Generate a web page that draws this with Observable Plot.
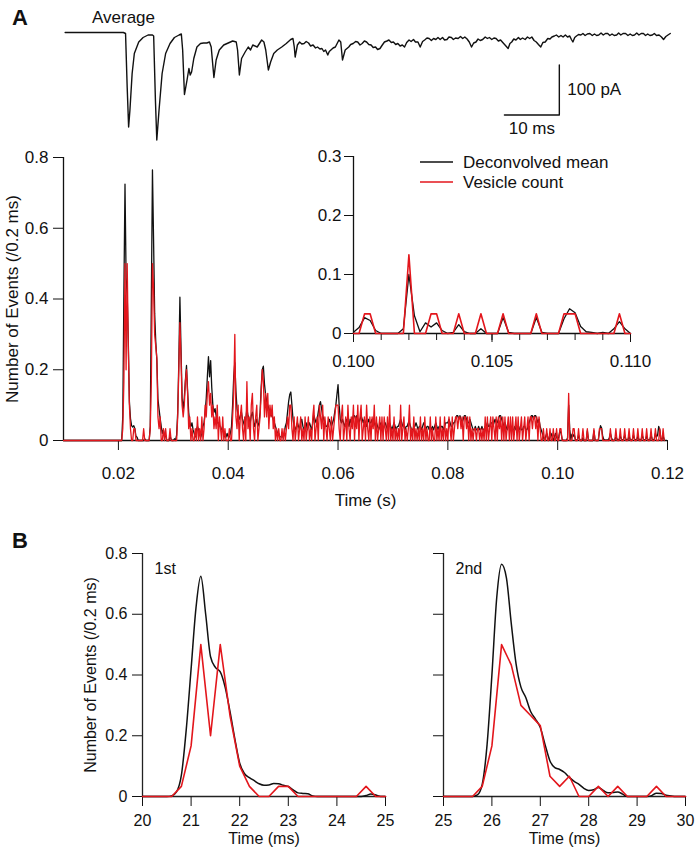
<!DOCTYPE html>
<html>
<head>
<meta charset="utf-8">
<script src="https://cdn.jsdelivr.net/npm/d3@7"></script>
<script src="https://cdn.jsdelivr.net/npm/@observablehq/plot@0.6"></script>
<style>
  html, body { margin: 0; padding: 0; background: #fff; }
  #fig { position: relative; width: 697px; height: 853px; overflow: hidden;
         font-family: "Liberation Sans", Arial, Helvetica, sans-serif; }
  #fig > svg { position: absolute; left: 0; top: 0; overflow: visible; background: transparent; }
</style>
</head>
<body>
<div id="fig">
  <svg id="overlay" width="697" height="853" style="font-family:'Liberation Sans',Arial,sans-serif">
    <text x="12" y="25" font-size="22" font-weight="bold" fill="#111">A</text>
    <text x="12" y="548" font-size="22" font-weight="bold" fill="#111">B</text>
    <text x="92" y="23" font-size="17" fill="#111">Average</text>
    <line x1="420" x2="453" y1="162" y2="162" stroke="#111" stroke-width="1.4"></line>
    <text x="463" y="162" dy="0.35em" font-size="17" fill="#111">Deconvolved mean</text>
    <line x1="420" x2="453" y1="182" y2="182" stroke="#e3161c" stroke-width="1.6"></line>
    <text x="463" y="182" dy="0.35em" font-size="17" fill="#111">Vesicle count</text>
  </svg>
</div>
<script>
// ---------------- DATA ----------------
// Panel A: binned event counts, 0.2 ms bins starting at 10 ms
const mainStartMs = 10;
const binMs = 0.2;
const nTrials = 30;

// Vesicle count per bin (counts out of nTrials)
const vesicleCounts = [
  0,0,0,0,0,0,0,0,0,0, 0,0,0,0,0,0,0,0,0,0, 0,0,0,0,0,0,0,0,0,0, 0,0,0,0,0,0,0,0,0,0, 0,0,0,0,0,0,0,0,0,0,
  0,0,0,0,1,5,15,6,15,8, 3,1,0,0,1,1,0,0,0,0, 0,0,0,1,0,0,0,0,0,1, 5,15,13,9,8,7,2,1,2,0, 0,1,0,1,0,0,0,1,0,0,
  0,0,0,0,2,6,10,7,3,2, 3,5,6,4,1,2,0,1,0,0, 1,0,2,0,1,0,2,0,1,3, 2,4,5,3,4,2,3,1,2,1, 3,0,2,1,0,2,0,1,0,0,
  0,1,0,0,2,4,9,2,1,3, 0,2,3,1,0,2,0,5,1,2, 0,3,4,1,0,2,3,0,1,2, 4,6,5,2,4,2,4,1,3,2, 3,1,2,0,1,0,1,0,0,1,
  0,1,0,1,2,1,3,3,1,0, 2,0,1,2,0,1,2,0,1,0, 2,0,1,2,0,1,0,2,3,0, 1,2,0,3,2,1,3,0,2,1, 0,2,1,0,2,0,1,2,3,3,
  3,1,0,2,3,0,1,2,0,3, 1,0,2,1,3,0,2,1,3,0, 2,3,0,1,2,0,3,1,0,2, 0,2,1,3,0,2,0,1,2,0, 2,0,2,1,0,2,0,3,0,1,
  0,2,0,1,0,1,0,3,0,1, 2,0,1,0,1,3,0,1,0,2, 0,1,0,1,0,2,0,1,0,2, 0,1,0,0,2,0,1,0,0,2, 0,1,0,2,0,1,0,2,0,1,
  0,2,1,0,2,0,1,2,2,1, 2,2,1,2,0,2,2,1,2,0, 2,0,1,0,1,1,0,1,1,0, 1,0,1,0,2,0,2,0,1,2, 0,2,1,0,2,0,2,1,2,0,
  2,0,2,0,1,2,0,2,0,2, 0,1,2,0,2,0,1,2,0,1, 2,0,1,2,0,2,2,1,2,2, 1,2,0,2,1,0,0,1,0,0, 1,0,0,1,0,0,1,0,0,1,
  0,0,1,1,0,0,0,0,0,0, 4,0,0,0,1,1,0,0,0,1, 0,0,0,1,0,0,0,1,0,0, 0,0,0,1,0,0,0,0,1,1, 1,0,0,0,0,0,0,0,1,0,
  0,0,0,1,0,0,0,1,0,0, 0,1,0,0,0,1,0,0,0,1, 0,0,0,1,0,0,0,1,0,0, 0,1,0,0,0,1,0,0,0,1, 0,0,0,1,0,0,1,0
];

// Deconvolved mean per bin (thousandths of an event)
const deconvMilli = [
  0,0,0,0,0,0,0,0,0,0, 0,0,0,0,0,0,0,0,0,0, 0,0,0,0,0,0,0,0,0,0, 0,0,0,0,0,0,0,0,0,0, 0,0,0,0,0,0,0,0,0,0,
  0,0,0,0,70,420,725,460,410,280, 110,62,42,38,42,33,12,9,0,0, 0,0,0,0,5,0,0,0,0,40, 400,765,570,360,280,227,117,89,63,40, 20,30,12,15,0,0,0,11,4,0,
  0,5,0,15,80,220,405,260,120,90, 120,170,212,140,80,50,40,50,30,20, 10,30,40,30,20,10,20,40,50,80, 120,180,237,180,226,150,100,80,90,70, 50,50,40,40,30,30,20,10,10,20,
  10,10,20,40,100,180,220,140,90,70, 60,70,80,60,50,40,60,90,70,60, 50,70,80,60,40,50,60,40,50,80, 150,200,210,160,130,110,100,90,80,70, 70,60,50,40,30,20,20,10,10,10,
  10,20,40,50,80,110,130,137,100,60, 40,30,40,50,40,30,50,60,40,30, 40,50,30,40,50,40,30,50,70,60, 50,60,80,100,110,90,70,60,50,40, 40,50,60,50,40,50,60,80,100,130,
  158,100,60,50,60,50,40,50,60,50, 40,60,50,60,70,70,60,70,60,50, 60,70,60,50,60,50,40,50,60,50, 50,60,60,50,40,50,40,30,40,50, 40,30,40,50,40,30,40,50,40,30,
  40,50,40,30,40,40,50,60,50,40, 40,30,40,40,50,50,40,30,30,40, 40,50,40,30,40,40,30,40,50,40, 30,40,40,30,40,30,40,30,40,50, 40,30,40,30,40,40,30,40,50,50,
  50,60,50,40,40,50,50,60,70,70, 60,70,60,50,60,70,70,60,50,50, 60,50,40,30,30,40,30,30,40,30, 30,40,30,30,40,40,50,40,40,50, 50,40,50,60,50,50,60,70,70,60,
  50,40,50,40,30,40,40,30,40,30, 30,40,30,40,30,30,40,30,30,40, 40,30,30,40,50,60,70,70,60,70, 70,60,50,60,40,30,20,10,0,10, 20,10,0,10,20,10,0,10,20,10,
  2,10,27,22,5,0,0,0,0,8, 100,30,3,18,11,18,5,0,2,15, 3,0,0,8,0,0,0,27,2,0, 0,0,0,27,2,0,0,0,25,42, 35,12,3,2,0,2,0,8,20,8,
  0,0,3,10,5,0,3,12,5,0, 3,15,5,0,3,12,3,0,3,15, 5,0,3,12,3,0,3,15,5,0, 3,12,3,0,3,15,5,0,5,20, 10,15,40,30,5,3,12,3
];

// Panel B: deconvolved mean at 0.1 ms resolution (thousandths)
const b1StartMs = 20, b2StartMs = 25, bStepMs = 0.1;
const b1DeconvMilli = [
  0,0,0,0,0,0,2,15,70,220, 420,620,725,600,460,425,410,360,280,190,
  110,75,62,52,42,37,38,43,42,37, 33,22,12,10,9,2,0,0,0,0,
  0,0,0,0,0,0,3,8,5,0,0
];
const b2DeconvMilli = [
  0,0,0,0,0,0,0,5,40,170, 400,655,765,720,570,436,360,326,280,255,
  227,170,117,95,89,79,63,50,40,27, 20,22,30,20,12,13,15,8,0,0,
  0,0,0,3,11,10,4,2,0,0,0
];

// Average EPSC trace: [time (ms), current (pA)]
const avgTrace = [[10.3,0],[20.9,0],[21.3,-2],[21.6,-110],[21.86,-189],[22.1,-155],[22.5,-82],[22.9,-42],[23.7,-19],[24.5,-10],[25.4,-5],[26.2,-5],[26.42,-7],[26.74,-135],[26.99,-215],[27.4,-155],[27.96,-82],[28.6,-42],[29.4,-22],[30.2,-10],[31.05,-5],[31.46,-3],[31.7,-35],[32.03,-124],[32.5,-95],[32.84,-72],[33.08,-85],[33.33,-79],[33.73,-52],[34.3,-29],[34.95,-22],[35.5,-21],[36.1,-21],[36.58,-19],[36.9,-29],[37.39,-90],[37.8,-55],[38.37,-35],[39.18,-25],[40.0,-21],[40.81,-17],[41.46,-19],[41.7,-35],[42.03,-85],[42.43,-52],[43.08,-39],[43.65,-29],[44.06,-35],[44.47,-25],[45.28,-29],[46.09,-15],[46.5,-19],[46.83,-35],[47.31,-75],[47.72,-59],[48.29,-42],[48.94,-35],[49.75,-29],[50.57,-22],[51.38,-14],[51.79,-12],[52.03,-29],[52.19,-49],[52.6,-25],[53.0,-19],[53.4,-23],[53.82,-22],[54.2,-18],[54.63,-21],[55.0,-27],[55.45,-25],[55.9,-31],[56.26,-29],[56.7,-33],[57.07,-32],[57.4,-38],[57.72,-35],[58.13,-45],[58.4,-38],[58.7,-35],[59.1,-31],[59.51,-29],[60.16,-15],[60.49,-19],[60.81,-55],[61.3,-35],[61.95,-29],[62.3,-24],[62.76,-22],[63.2,-18],[63.58,-19],[64.0,-25],[64.39,-22],[64.8,-17],[65.2,-19],[65.6,-24],[66.02,-25],[66.4,-30],[66.83,-29],[67.2,-34],[67.64,-32],[68.0,-26],[68.45,-19],[68.9,-17],[69.27,-15],[69.7,-20],[70.08,-19],[70.5,-24],[70.89,-22],[71.3,-27],[71.71,-25],[72.11,-29],[72.5,-20],[72.93,-15],[73.3,-18],[73.74,-14],[74.1,-19],[74.55,-19],[74.96,-29],[75.4,-18],[75.77,-15],[76.2,-11],[76.59,-12],[77.0,-16],[77.4,-12],[77.81,-14],[78.2,-10],[78.6,-14],[79.03,-10],[79.4,-15],[79.84,-14],[80.2,-9],[80.65,-10],[81.0,-14],[81.4,-11],[81.87,-12],[82.3,-8],[82.7,-12],[83.09,-9],[83.5,-13],[83.9,-19],[84.31,-29],[84.7,-21],[85.12,-19],[85.5,-13],[85.9,-16],[86.34,-14],[86.8,-9],[87.2,-12],[87.56,-10],[88.0,-14],[88.4,-11],[88.78,-12],[89.2,-17],[89.6,-15],[90.0,-20],[90.41,-25],[90.98,-32],[91.3,-22],[91.63,-19],[92.0,-13],[92.4,-15],[92.85,-10],[93.2,-14],[93.6,-11],[94.07,-14],[94.5,-9],[94.9,-12],[95.29,-9],[95.7,-16],[96.1,-19],[96.5,-24],[96.92,-29],[97.3,-20],[97.73,-19],[98.2,-12],[98.6,-13],[98.95,-9],[99.4,-7],[99.76,-5],[100.2,-9],[100.6,-6],[100.98,-9],[101.4,-5],[101.8,-9],[102.2,-7],[102.5,-14],[102.77,-19],[103.1,-10],[103.42,-7],[103.8,-4],[104.23,-5],[104.6,-2],[105.0,-6],[105.4,-3],[105.86,-2],[106.3,-6],[106.7,-3],[107.1,-6],[107.48,-5],[107.9,-1],[108.3,-5],[108.7,-2],[109.11,-2],[109.5,-6],[109.9,-3],[110.3,-6],[110.74,-5],[111.1,-1],[111.5,-5],[111.9,-2],[112.36,-2],[112.8,-6],[113.2,-3],[113.6,-6],[113.99,-5],[114.4,-1],[114.8,-5],[115.2,-2],[115.62,-2],[116.0,-6],[116.4,-3],[116.8,-6],[117.24,-5],[117.6,-2],[118.0,-6],[118.46,-5],[118.9,-9],[119.28,-14],[119.7,-8],[120.09,-5],[120.5,-2]];

// Scale bar (10 ms x 100 pA), in data units
const scaleBarMs = [90.3, 100.3, 100.3];
const scaleBarPA = [-165, -165, -65];

// Tick values
const mainXTicks = [0.02, 0.04, 0.06, 0.08, 0.10, 0.12];
const mainYTicks = [0, 0.2, 0.4, 0.6, 0.8];
const insetXMajor = [0.100, 0.105, 0.110];
const insetXMinor = [0.100,0.101,0.102,0.103,0.104,0.105,0.106,0.107,0.108,0.109,0.110];
const insetYTicks = [0, 0.1, 0.2, 0.3];
const b1XTicks = [20, 21, 22, 23, 24, 25];
const b2XTicks = [25, 26, 27, 28, 29, 30];
const bYTicks = [0, 0.2, 0.4, 0.6, 0.8];

// ---------------- BUILD ----------------
const W = 697, H = 853;
const RED = "#e3161c", BLK = "#111";
const FONT = "'Liberation Sans', Arial, Helvetica, sans-serif";
const fig = document.getElementById("fig");
const style = (size) => ({background: "transparent", overflow: "visible", fontFamily: FONT, fontSize: size + "px", color: "#111"});
const fmtY = (d) => d === 0 ? "0" : d3.format(".1f")(d);

const vesicle = vesicleCounts.map((c, i) => ({t: (mainStartMs + i * binMs) / 1000, ms: mainStartMs + i * binMs, v: c / nTrials}));
const deconv = deconvMilli.map((m, i) => ({t: (mainStartMs + i * binMs) / 1000, ms: mainStartMs + i * binMs, v: m / 1000}));
const avg = avgTrace.map(([t, i]) => ({t, i}));
const scaleBar = scaleBarMs.map((t, k) => ({t, i: scaleBarPA[k]}));

// Top: average current trace
fig.appendChild(Plot.plot({
  width: W, height: H, marginLeft: 63, marginRight: 30, marginTop: 32, marginBottom: H - 142,
  x: {domain: [10, 120], axis: null}, y: {domain: [-220, 0], axis: null},
  style: style(17),
  marks: [
    Plot.line(avg, {x: "t", y: "i", stroke: BLK, strokeWidth: 1.4}),
    Plot.line(scaleBar, {x: "t", y: "i", stroke: BLK, strokeWidth: 1.4}),
    Plot.text([{t: scaleBarMs[2], i: (scaleBarPA[1] + scaleBarPA[2]) / 2}], {x: "t", y: "i", text: () => "100 pA", textAnchor: "start", dx: 8}),
    Plot.text([{t: (scaleBarMs[0] + scaleBarMs[1]) / 2, i: scaleBarPA[0]}], {x: "t", y: "i", text: () => "10 ms", dy: 14})
  ]
}));

// Main panel A
fig.appendChild(Plot.plot({
  width: W, height: H, marginLeft: 63, marginRight: 30, marginTop: 157, marginBottom: H - 440,
  x: {domain: [0.01, 0.12]}, y: {domain: [0, 0.8]},
  style: style(17),
  marks: [
    Plot.ruleY([0], {stroke: BLK, strokeWidth: 1.3}),
    Plot.ruleX([0.01], {stroke: BLK, strokeWidth: 1.3}),
    Plot.axisX({ticks: mainXTicks, tickSize: 10, tickPadding: 16, tickFormat: d3.format(".2f"), label: null}),
    Plot.axisY({ticks: mainYTicks, tickSize: 10, tickPadding: 5, tickFormat: fmtY, label: null}),
    Plot.line(deconv, {x: "t", y: "v", stroke: BLK, strokeWidth: 1.3}),
    Plot.line(vesicle, {x: "t", y: "v", stroke: RED, strokeWidth: 1.3}),
    Plot.text(["Time (s)"], {text: d => d, frameAnchor: "bottom", textAnchor: "middle", dy: 65}),
    Plot.text(["Number of Events (/0.2 ms)"], {text: d => d, frameAnchor: "left", textAnchor: "middle", dx: -51, rotate: -90})
  ]
}));

// Inset
const inRange = (d) => d.t >= 0.1 - 1e-9 && d.t <= 0.11 + 1e-9;
fig.appendChild(Plot.plot({
  width: W, height: H, marginLeft: 353, marginRight: W - 630, marginTop: 156, marginBottom: H - 333,
  x: {domain: [0.1, 0.11]}, y: {domain: [0, 0.3]},
  style: style(17),
  marks: [
    Plot.ruleY([0], {stroke: BLK, strokeWidth: 1.3}),
    Plot.ruleX([0.1], {stroke: BLK, strokeWidth: 1.3}),
    Plot.axisX({ticks: insetXMinor, tickSize: 7, tickFormat: () => "", label: null}),
    Plot.axisX({ticks: insetXMajor, tickSize: 9, tickPadding: 12, tickFormat: d3.format(".3f"), label: null}),
    Plot.axisY({ticks: insetYTicks, tickSize: 9, tickPadding: 3, tickFormat: fmtY, label: null}),
    Plot.line(deconv.filter(inRange), {x: "t", y: "v", stroke: BLK, strokeWidth: 1.3}),
    Plot.line(vesicle.filter(inRange), {x: "t", y: "v", stroke: RED, strokeWidth: 1.6})
  ]
}));

// Panel B
function panelB({left, right, startMs, blackMilli, xTicks, label, showYLabels}) {
  const black = blackMilli.map((m, i) => ({ms: startMs + i * bStepMs, v: m / 1000}));
  const red = vesicle.filter(d => d.ms >= xTicks[0] - 1e-9 && d.ms <= xTicks[xTicks.length - 1] + 1e-9);
  const marks = [
    Plot.ruleY([0], {stroke: "#222", strokeWidth: 1.3}),
    Plot.ruleX([xTicks[0]], {stroke: "#222", strokeWidth: 1.3}),
    Plot.axisX({ticks: xTicks, tickSize: 10, tickPadding: 8, tickFormat: d3.format("d"), label: null}),
    Plot.axisY({ticks: bYTicks, tickSize: 10, tickPadding: 5, tickFormat: showYLabels ? fmtY : () => "", label: null}),
    Plot.line(black, {x: "ms", y: "v", stroke: BLK, strokeWidth: 1.5, curve: "monotone-x"}),
    Plot.line(red, {x: "ms", y: "v", stroke: RED, strokeWidth: 1.6}),
    Plot.text(["Time (ms)"], {text: d => d, frameAnchor: "bottom", textAnchor: "middle", dy: 47, fontSize: 16}),
    Plot.text([label], {text: d => d, frameAnchor: "top-left", textAnchor: "start", dx: 12, dy: 9})
  ];
  if (showYLabels) marks.push(Plot.text(["Number of Events (/0.2 ms)"], {text: d => d, frameAnchor: "left", textAnchor: "middle", dx: -52, rotate: -90}));
  return Plot.plot({
    width: W, height: H, marginLeft: left, marginRight: W - right, marginTop: 553, marginBottom: H - 796,
    x: {domain: [xTicks[0], xTicks[xTicks.length - 1]]}, y: {domain: [0, 0.8]},
    style: style(16),
    marks
  });
}
fig.appendChild(panelB({left: 142, right: 385, startMs: b1StartMs, blackMilli: b1DeconvMilli, xTicks: b1XTicks, label: "1st", showYLabels: true}));
fig.appendChild(panelB({left: 443, right: 685, startMs: b2StartMs, blackMilli: b2DeconvMilli, xTicks: b2XTicks, label: "2nd", showYLabels: false}));

// keep overlay on top
fig.appendChild(document.getElementById("overlay"));
</script>
</body>
</html>
